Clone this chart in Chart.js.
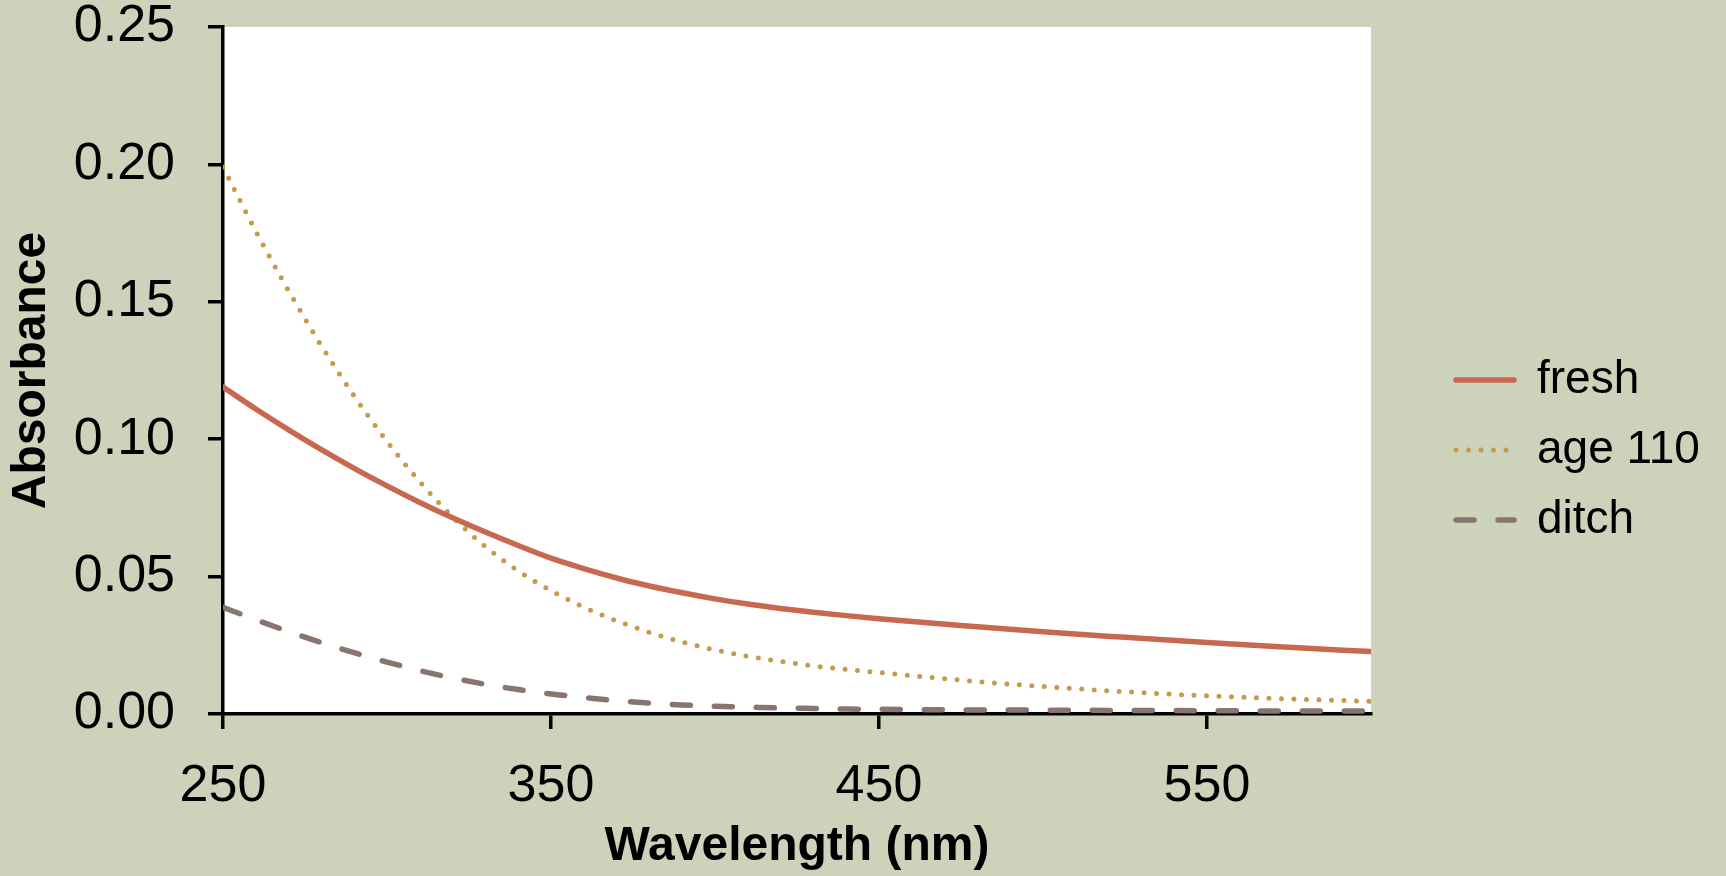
<!DOCTYPE html>
<html>
<head>
<meta charset="utf-8">
<script src="https://cdn.jsdelivr.net/npm/chart.js@4.4.1/dist/chart.umd.min.js"></script>
<style>
  html, body { margin: 0; padding: 0; background: #CDD2BB; }
  #wrap { width: 1726px; height: 876px; }
  canvas { display: block; }
</style>
</head>
<body>
<div id="wrap"><canvas id="c" width="1726" height="876"></canvas></div>
<script>
// ---- data ----
const wavelengths = [250, 260, 270, 280, 290, 300, 310, 320, 330, 340, 350, 360, 370, 380, 390, 400, 410, 420, 430, 440, 450, 475, 500, 525, 550, 575, 600];
const fresh  = [0.1190, 0.1110, 0.1034, 0.0962, 0.0894, 0.0830, 0.0770, 0.0714, 0.0662, 0.0613, 0.0567, 0.0529, 0.0495, 0.0466, 0.0441, 0.0419, 0.0400, 0.0384, 0.0370, 0.0358, 0.0347, 0.0322, 0.0299, 0.0279, 0.0260, 0.0243, 0.0227];
const age110 = [0.1990, 0.1757, 0.1540, 0.1340, 0.1157, 0.0992, 0.0845, 0.0717, 0.0609, 0.0521, 0.0449, 0.0389, 0.0339, 0.0297, 0.0262, 0.0233, 0.0210, 0.0191, 0.0175, 0.0162, 0.0151, 0.0123, 0.0100, 0.0081, 0.0066, 0.0055, 0.0046];
const ditch  = [0.0388, 0.0343, 0.0300, 0.0260, 0.0223, 0.0189, 0.0158, 0.0131, 0.0108, 0.0089, 0.0073, 0.0060, 0.0049, 0.0040, 0.0033, 0.0028, 0.0025, 0.0022, 0.0020, 0.0018, 0.0017, 0.0015, 0.0014, 0.0013, 0.0012, 0.0011, 0.0011];
const seriesNames = ['fresh', 'age 110', 'ditch'];
const xTicks = [250, 350, 450, 550];
const yTicks = [0, 0.05, 0.10, 0.15, 0.20, 0.25];
const xTitle = 'Wavelength (nm)';
const yTitle = 'Absorbance';

// ---- styling ----
const FONT = "'Liberation Sans', Arial, sans-serif";
const BG = '#CDD2BB';

const pts = (vals) => wavelengths.map((w, i) => ({ x: w, y: vals[i] }));

const bgPlugin = {
  id: 'bg',
  beforeDraw(c) {
    const { ctx, chartArea: a } = c;
    ctx.save();
    ctx.fillStyle = BG;
    ctx.fillRect(0, 0, c.width, c.height);
    ctx.fillStyle = '#FFFFFF';
    ctx.fillRect(a.left, a.top, a.right - a.left, a.bottom - a.top);
    ctx.restore();
  }
};

const legendPlace = {
  id: 'legendPlace',
  afterLayout(c) {
    const lg = c.legend;
    if (!lg) return;
    lg.left = 1432;
    lg.right = 1726;
    lg.width = lg.right - lg.left;
    lg.top -= 1.5;
    lg.bottom -= 1.5;
  }
};

Chart.defaults.color = '#000';
Chart.defaults.font.family = FONT;

new Chart(document.getElementById('c'), {
  type: 'line',
  data: {
    datasets: [
      { label: seriesNames[0], data: pts(fresh), borderColor: '#C86850', backgroundColor: '#C86850',
        borderWidth: 5.5, borderCapStyle: 'round', pointRadius: 0, cubicInterpolationMode: 'monotone', fill: false },
      { label: seriesNames[1], data: pts(age110), borderColor: '#C69A4C', backgroundColor: '#C69A4C',
        borderWidth: 5, borderDash: [0, 12.5], borderCapStyle: 'round', pointRadius: 0, cubicInterpolationMode: 'monotone', fill: false },
      { label: seriesNames[2], data: pts(ditch), borderColor: '#8A7470', backgroundColor: '#8A7470',
        borderWidth: 5.5, borderDash: [18, 24], borderCapStyle: 'round', pointRadius: 0, cubicInterpolationMode: 'monotone', fill: false }
    ]
  },
  options: {
    responsive: false,
    animation: false,
    devicePixelRatio: 1,
    layout: { padding: { left: 0, top: 27, right: 155, bottom: 0 } },
    scales: {
      x: {
        type: 'linear', min: 250, max: 600,
        afterBuildTicks: s => { s.ticks = xTicks.map(v => ({ value: v })); },
        afterFit: s => { s.height = 162; s.paddingLeft = 0; s.paddingRight = 0; },
        ticks: { padding: 26, maxRotation: 0, autoSkip: false, color: '#000',
                 font: { family: FONT, size: 52 }, callback: v => String(v) },
        grid: { display: true, drawOnChartArea: false, drawTicks: true, tickLength: 15,
                color: '#000', lineWidth: 3.5, tickWidth: 3.5 },
        border: { display: true, color: '#000', width: 3.5 },
        title: { display: true, text: xTitle, color: '#000',
                 font: { family: FONT, size: 48, weight: 'bold' }, padding: { top: 0, bottom: 0 } }
      },
      y: {
        type: 'linear', min: 0, max: 0.25,
        afterBuildTicks: s => { s.ticks = yTicks.map(v => ({ value: v })); },
        afterFit: s => { s.width = 223; s.paddingTop = 0; s.paddingBottom = 0; },
        ticks: { padding: 33, color: '#000', font: { family: FONT, size: 52 },
                 callback: v => Number(v).toFixed(2) },
        grid: { display: true, drawOnChartArea: false, drawTicks: true, tickLength: 15,
                color: '#000', lineWidth: 3.5, tickWidth: 3.5 },
        border: { display: true, color: '#000', width: 3.5 },
        title: { display: true, text: yTitle, color: '#000',
                 font: { family: FONT, size: 48, weight: 'bold' }, padding: { top: 3, bottom: 0 } }
      }
    },
    plugins: {
      legend: {
        position: 'right', align: 'center', maxWidth: 200,
        labels: {
          usePointStyle: true, pointStyle: 'line', pointStyleWidth: 58, padding: 24,
          color: '#000', font: { family: FONT, size: 46 },
          generateLabels: (chart) => {
            const items = Chart.defaults.plugins.legend.labels.generateLabels(chart);
            items.forEach(it => {
              const ds = chart.data.datasets[it.datasetIndex];
              it.lineDash = ds.borderDash || [];
              it.lineCap = ds.borderCapStyle;
              it.lineWidth = ds.borderWidth;
              it.strokeStyle = ds.borderColor;
              it.pointStyle = 'line';
            });
            return items;
          }
        }
      },
      tooltip: { enabled: false }
    }
  },
  plugins: [bgPlugin, legendPlace]
});
</script>
</body>
</html>
